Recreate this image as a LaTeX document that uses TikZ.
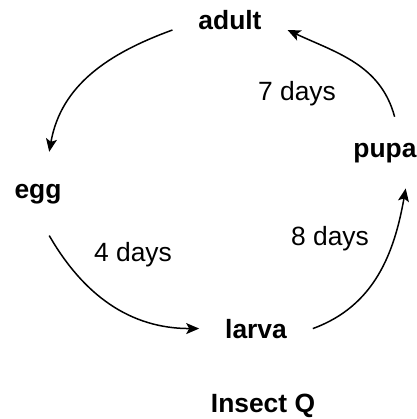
\documentclass[tikz,border=0pt]{standalone}
\usepackage{fontspec}
\setmainfont{Liberation Sans}
\usetikzlibrary{arrows.meta}

\begin{document}
\begin{tikzpicture}[x=1bp, y=1bp,
    every node/.style={font=\fontsize{26.5}{30}\selectfont, inner sep=0pt},
    stage/.style={font=\fontsize{26.5}{30}\selectfont\bfseries, outer sep=26bp, anchor=base},
    days/.style={anchor=base},
    cyc/.style={-{Stealth[length=13bp,width=11bp,inset=3bp]}, line width=1.5bp}]
  \useasboundingbox (0,0) rectangle (417,419);
  % stages
  \node[stage] (adult) at (230,389) {adult};
  \node[stage] (pupa) at (385,262) {pupa};
  \node[stage, outer sep=32bp] (egg) at (38,221) {egg};
  \node[stage] (larva) at (256,81) {larva};
  % durations
  \node[days] (d7) at (297,319) {7 days};
  \node[days] (d4) at (133,158) {4 days};
  \node[days] (d8) at (330,174) {8 days};
  \node[stage, outer sep=0pt] (title) at (263,7) {Insect Q};
  % life cycle arrows
  \draw[cyc] (adult.base west) to[out=200,in=80] (egg.75);
  \draw[cyc] (egg.-75) to[out=-60,in=180] (larva.west);
  \draw[cyc] (larva.east) to[out=20,in=260] (pupa.-60);
  \draw[cyc] (pupa.75) to[out=105,in=-25] (adult.base east);
\end{tikzpicture}
\end{document}
